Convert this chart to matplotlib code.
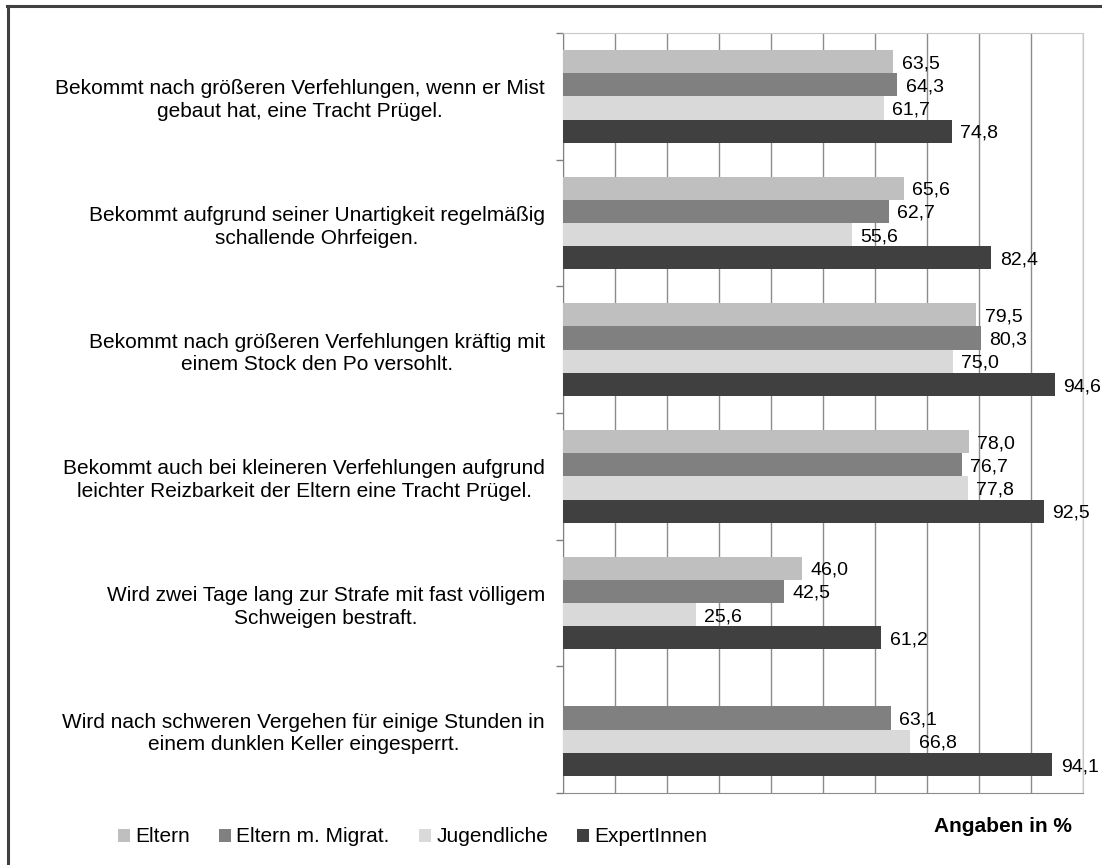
import numpy as np
import matplotlib.pyplot as plt
from matplotlib.lines import Line2D
from matplotlib.patches import Patch

plt.rcParams['font.family'] = ['Liberation Sans', 'DejaVu Sans']

# Kategorien (von oben nach unten)
categories = [
    "Bekommt nach größeren Verfehlungen, wenn er Mist\ngebaut hat, eine Tracht Prügel.",
    "Bekommt aufgrund seiner Unartigkeit regelmäßig\nschallende Ohrfeigen.",
    "Bekommt nach größeren Verfehlungen kräftig mit\neinem Stock den Po versohlt.",
    "Bekommt auch bei kleineren Verfehlungen aufgrund\nleichter Reizbarkeit der Eltern eine Tracht Prügel.",
    "Wird zwei Tage lang zur Strafe mit fast völligem\nSchweigen bestraft.",
    "Wird nach schweren Vergehen für einige Stunden in\neinem dunklen Keller eingesperrt.",
]

series_names = ["Eltern", "Eltern m. Migrat.", "Jugendliche", "ExpertInnen"]
eltern = [63.5, 65.6, 79.5, 78.0, 46.0, None]
eltern_migrat = [64.3, 62.7, 80.3, 76.7, 42.5, 63.1]
jugendliche = [61.7, 55.6, 75.0, 77.8, 25.6, 66.8]
expertinnen = [74.8, 82.4, 94.6, 92.5, 61.2, 94.1]
colors = ["#BFBFBF", "#808080", "#D9D9D9", "#404040"]

series = [eltern, eltern_migrat, jugendliche, expertinnen]

fig = plt.figure(figsize=(11.02, 8.65), dpi=100)
ax = fig.add_axes([563 / 1102, 1 - 793 / 865, 520 / 1102, 760 / 865])

fs = 14
bar_h = 0.183
y = np.arange(len(categories))
for i, (vals, col) in enumerate(zip(series, colors)):
    offs = (i - 1.5) * bar_h
    for j, v in enumerate(vals):
        if v is None:
            continue
        ax.barh(y[j] + offs, v, height=bar_h, color=col, zorder=3)
        ax.annotate(f"{v:.1f}".replace('.', ','), xy=(v, y[j] + offs),
                    xytext=(6, -1.5), textcoords='offset points',
                    ha='left', va='center', fontsize=fs, zorder=4)

ax.set_xlim(0, 100)
ax.set_ylim(len(categories) - 0.5, -0.5)
ax.set_xticks(np.arange(0, 101, 10))
ax.tick_params(axis='x', length=0, labelbottom=False)
ax.grid(axis='x', color='#8C8C8C', linewidth=1, zorder=0)

ax.set_yticks(y)
ax.set_yticklabels(categories, fontsize=15, multialignment='center', linespacing=1.25)
ax.tick_params(axis='y', which='major', length=0, pad=13)
ax.set_yticks(np.arange(-0.5, len(categories)), minor=True)
ax.tick_params(axis='y', which='minor', length=5, color='#808080', width=1)

ax.spines['left'].set_color('#808080')
ax.spines['bottom'].set_color('#8C8C8C')
ax.spines['top'].set_color('#C8C8C8')
ax.spines['right'].set_color('#C8C8C8')

# Legende
handles = [Patch(facecolor=c, edgecolor='none') for c in colors]
fig.legend(handles, series_names, loc='center left',
           bbox_to_anchor=(118 / 1102, 1 - 837 / 865), ncol=4, frameon=False,
           fontsize=15, handlelength=0.58, handleheight=0.58, handletextpad=0.25,
           columnspacing=1.4, borderaxespad=0, borderpad=0)

fig.text(1072 / 1102, 1 - 827 / 865, "Angaben in %", ha='right', va='center',
         fontsize=15, fontweight='bold')

# Rahmen
fig.add_artist(Line2D([7 / 1102, 1], [1 - 6 / 865, 1 - 6 / 865], color='#404040', linewidth=2.2))
fig.add_artist(Line2D([8 / 1102, 8 / 1102], [0, 1 - 6 / 865], color='#404040', linewidth=2.2))

fig.savefig('out.png', dpi=100)
